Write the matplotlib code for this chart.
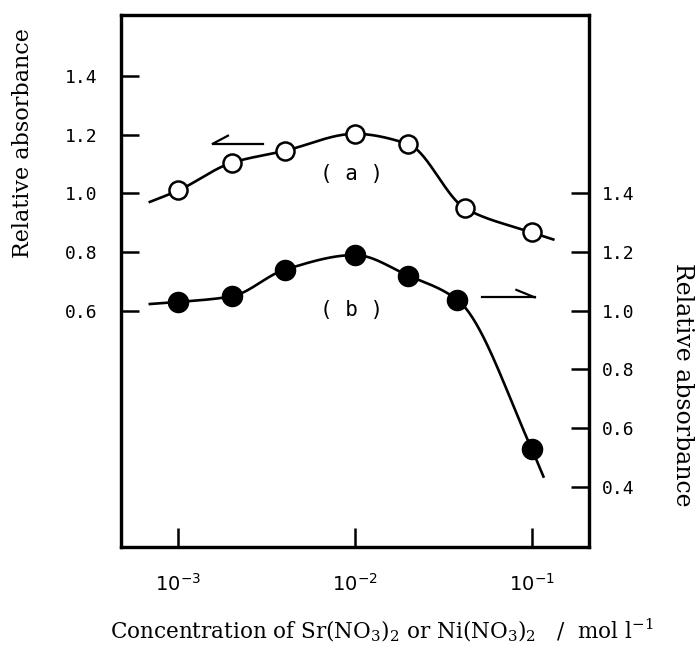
import numpy as np
import matplotlib
matplotlib.use('Agg')
from matplotlib import pyplot as plt

# values
conc = [1e-3, 2e-3, 4e-3, 1e-2, 2e-2, 4.2e-2, 1e-1]
abs_a = [1.01, 1.104, 1.145, 1.203, 1.168, 0.949, 0.867]
conc_b = [1e-3, 2e-3, 4e-3, 1e-2, 2e-2, 3.8e-2, 1e-1]
abs_b = [1.03, 1.049, 1.14, 1.19, 1.12, 1.037, 0.529]

# where the drawn curves start and stop beyond the first/last point
curve_a_ends = [(6.9e-4, 0.971), (0.1325, 0.843)]
curve_b_ends = [(6.9e-4, 1.023), (0.1165, 0.435)]

left_ticks = [0.6, 0.8, 1.0, 1.2, 1.4]
right_ticks = [0.4, 0.6, 0.8, 1.0, 1.2, 1.4]
x_ticks = [1e-3, 1e-2, 1e-1]
x_ticklabels = ['$10^{-3}$', '$10^{-2}$', '$10^{-1}$']


def smooth(xs, ys, n=40):
    #pchip-style hermite through the knots, in log x
    x = np.log10(xs)
    y = np.asarray(ys, dtype=float)
    h = np.diff(x)
    d = np.diff(y) / h
    m = np.zeros_like(y)
    m[0] = d[0]
    m[-1] = d[-1]
    for k in range(1, len(x)-1):
        if d[k-1]*d[k] > 0:
            w1 = 2*h[k] + h[k-1]
            w2 = h[k] + 2*h[k-1]
            m[k] = (w1 + w2) / (w1/d[k-1] + w2/d[k])
    px, py = [], []
    t = np.linspace(0, 1, n, endpoint=False)
    for i in range(len(x)-1):
        h00 = 2*t**3 - 3*t**2 + 1
        h10 = t**3 - 2*t**2 + t
        h01 = -2*t**3 + 3*t**2
        h11 = t**3 - t**2
        px.append(x[i] + t*h[i])
        py.append(h00*y[i] + h10*h[i]*m[i] + h01*y[i+1] + h11*h[i]*m[i+1])
    px.append([x[-1]])
    py.append([y[-1]])
    return 10**np.concatenate(px), np.concatenate(py)


fig = plt.figure(figsize=(6.97, 6.51), dpi=100)
ax = fig.add_axes([0.1732, 0.1602, 0.6718, 0.8168])
ax2 = ax.twinx()

ax.set_xscale('log')
ax.set_xlim(10**-3.326, 10**-0.676)
ax.set_ylim(-0.204, 1.608)
ax2.set_ylim(0.196, 2.008)

#curve (a) - left axis, open circles
kx = [curve_a_ends[0][0]] + conc + [curve_a_ends[1][0]]
ky = [curve_a_ends[0][1]] + abs_a + [curve_a_ends[1][1]]
sx, sy = smooth(kx, ky)
ax.plot(sx, sy, color='black', lw=1.9, zorder=2)
ax.plot(conc, abs_a, 'o', ms=13, mfc='white', mec='black', mew=1.8, zorder=3)

#curve (b) - right axis, filled circles
kx = [curve_b_ends[0][0]] + conc_b + [curve_b_ends[1][0]]
ky = [curve_b_ends[0][1]] + abs_b + [curve_b_ends[1][1]]
sx, sy = smooth(kx, ky)
ax2.plot(sx, sy, color='black', lw=1.9, zorder=2)
ax2.plot(conc_b, abs_b, 'o', ms=14.5, mfc='black', mec='black', mew=1, zorder=3)

for s in ax.spines.values():
    s.set_linewidth(2.3)
for s in ax2.spines.values():
    s.set_linewidth(2.3)

ax.set_xticks(x_ticks)
ax.set_xticklabels(x_ticklabels, fontsize=14, math_fontfamily='dejavusans')
ax.xaxis.set_minor_locator(matplotlib.ticker.NullLocator())
ax.tick_params(axis='x', direction='in', length=14, width=1.8, pad=19, top=False)

ax.set_yticks(left_ticks)
ax.set_yticklabels(['{:.1f}'.format(v) for v in left_ticks],
                   family='DejaVu Sans Mono', fontsize=13)
ax.tick_params(axis='y', direction='in', length=13, width=1.8, pad=17, right=False)

ax2.set_yticks(right_ticks)
ax2.set_yticklabels(['{:.1f}'.format(v) for v in right_ticks],
                    family='DejaVu Sans Mono', fontsize=13)
ax2.tick_params(axis='y', direction='in', length=13, width=1.8, pad=9)

#labels for the curves
ax.text(0.494, 0.700, '( a )', transform=ax.transAxes, ha='center', va='center',
        family='DejaVu Sans Mono', fontsize=15)
ax.text(0.494, 0.446, '( b )', transform=ax.transAxes, ha='center', va='center',
        family='DejaVu Sans Mono', fontsize=15)

#half-headed arrows showing which axis goes with which curve
ax.plot([0.197, 0.304], [0.758, 0.758], transform=ax.transAxes, color='black', lw=1.6)
ax.plot([0.197, 0.229], [0.758, 0.773], transform=ax.transAxes, color='black', lw=1.6)
ax.plot([0.771, 0.884], [0.469, 0.469], transform=ax.transAxes, color='black', lw=1.6)
ax.plot([0.884, 0.845], [0.469, 0.483], transform=ax.transAxes, color='black', lw=1.6)

fig.text(23/697, 1-143/651, 'Relative absorbance', rotation=90, ha='center', va='center',
         family='DejaVu Serif', fontsize=16)
fig.text(683/697, 1-385/651, 'Relative absorbance', rotation=-90, ha='center', va='center',
         family='DejaVu Serif', fontsize=17)
fig.text(382/697, 1-630/651,
         'Concentration of Sr(NO$_3$)$_2$ or Ni(NO$_3$)$_2$   /  mol l$^{-1}$',
         ha='center', va='center', family='DejaVu Serif', fontsize=15.5,
         math_fontfamily='dejavuserif')

fig.savefig('out.png', dpi=100)
